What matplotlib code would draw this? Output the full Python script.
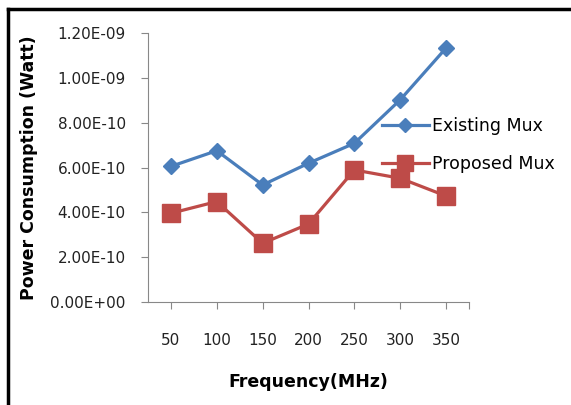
import matplotlib
matplotlib.use("Agg")
import matplotlib.pyplot as plt
from matplotlib.lines import Line2D

categories = ["50", "100", "150", "200", "250", "300", "350"]
existing = [6.05e-10, 6.75e-10, 5.22e-10, 6.19e-10, 7.08e-10, 9.02e-10, 1.133e-09]
proposed = [3.96e-10, 4.48e-10, 2.62e-10, 3.48e-10, 5.89e-10, 5.52e-10, 4.73e-10]
yticks = [0, 2e-10, 4e-10, 6e-10, 8e-10, 1e-09, 1.2e-09]
ytick_labels = ["0.00E+00", "2.00E-10", "4.00E-10", "6.00E-10", "8.00E-10", "1.00E-09", "1.20E-09"]

plt.rcParams['font.family'] = ['DejaVu Sans']

W, H = 571, 405
fig = plt.figure(figsize=(W/100, H/100), dpi=100)
ax = fig.add_axes([148/W, 1-302/H, (469-148)/W, (302-33)/H])

x = [i + 0.5 for i in range(len(categories))]
blue = "#4a7ebb"
red = "#be4b48"
ax.plot(x, existing, color=blue, lw=2.3, marker="D", ms=8.5, label="Existing Mux")
ax.plot(x, proposed, color=red, lw=2.3, marker="s", ms=12.5, label="Proposed Mux")

ax.set_xlim(0, 7)
ax.set_ylim(0, 1.2e-9)
ax.set_yticks(yticks)
ax.set_yticklabels(ytick_labels, fontsize=11)
ax.set_xticks(x + [7])
ax.set_xticklabels(categories + [""], fontsize=11)
for s in ["top", "right"]:
    ax.spines[s].set_visible(False)
for s in ["left", "bottom"]:
    ax.spines[s].set_color("#888888")
ax.tick_params(axis="both", color="#888888", length=5, direction="out", labelcolor="#222222")
ax.tick_params(axis="x", pad=17)
ax.tick_params(axis="y", pad=11)

ax.set_xlabel("Frequency(MHz)", fontsize=12.5, fontweight="bold", labelpad=18)
ax.set_ylabel("Power Consumption (Watt)", fontsize=12.5, fontweight="bold", labelpad=9)

fig.legend(handles=[
    Line2D([], [], color=blue, lw=2.3, marker="D", ms=7),
    Line2D([], [], color=red, lw=2.3, marker="s", ms=11)],
    labels=["Existing Mux", "Proposed Mux"],
    loc="upper left", bbox_to_anchor=(366/W, 1-101/H), frameon=False,
    fontsize=12.5, handlelength=2.7, handletextpad=0.2, labelspacing=1.16)

fig.add_artist(Line2D([8/W, 8/W], [0, 1-9/H], color="black", lw=2.5, transform=fig.transFigure))
fig.add_artist(Line2D([8/W, 1], [1-9/H, 1-9/H], color="black", lw=2.5, transform=fig.transFigure))

fig.savefig("out.png", dpi=100)
